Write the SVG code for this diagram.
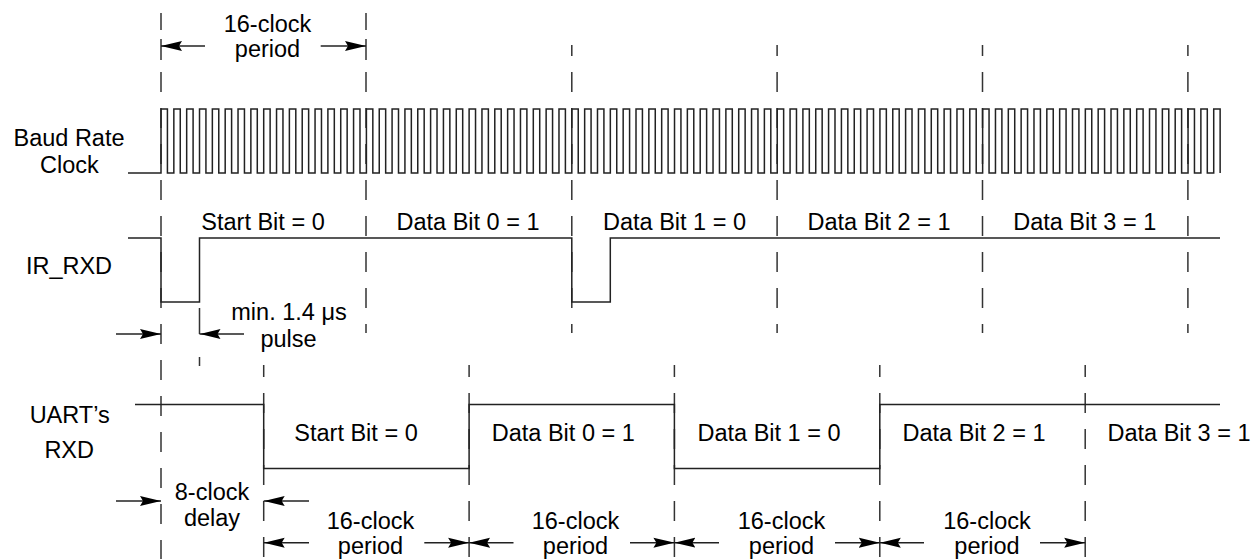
<svg xmlns="http://www.w3.org/2000/svg" width="1260" height="559" viewBox="0 0 1260 559">
<style>
text{font-family:"Liberation Sans",Arial,sans-serif;font-size:23.5px;fill:#000;text-anchor:middle}
.w{fill:none;stroke:#222;stroke-width:1.5}
.d{fill:none;stroke:#333;stroke-width:1.5;stroke-dasharray:20 16}
.s{fill:none;stroke:#333;stroke-width:1.5}
.a{fill:none;stroke:#222;stroke-width:1.4;marker-end:url(#ah)}
</style>
<defs>
<marker id="ah" viewBox="0 0 21 11" refX="21" refY="5.5" markerWidth="21" markerHeight="11" markerUnits="userSpaceOnUse" orient="auto">
<path d="M0,0.5 L21,5.5 L0,10.5 L3,5.5 z" fill="#000"/>
</marker>
</defs>
<rect width="1260" height="559" fill="#fff"/>

<g id="guides">
<path class="s" d="M161,13V30M161,39V60M366,13V30M366,39V60"/>
<path class="d" d="M161,72V559M366,72V333"/>
<path class="d" stroke-dashoffset="9" d="M571.8,45V333M777.1,45V333M982.5,45V333M1187.9,45V333"/>
<path class="s" d="M199.5,308V334M199.5,357V366"/>
<path class="d" stroke-dashoffset="8" d="M263.7,365V559M469.1,365V559M674.4,365V559M879.8,365V559M1085.2,365V559"/>
</g>

<g id="baud-clock">
<text x="69" y="145.5">Baud Rate</text>
<text x="69.5" y="173">Clock</text>
<path class="w" d="M128,173H161
v-64h6.419v64h6.419v-64h6.419v64h6.419v-64h6.419v64h6.419v-64h6.419v64h6.419v-64h6.419v64h6.419v-64h6.419v64h6.419v-64h6.419v64h6.419v-64h6.419v64h6.419v-64h6.419v64h6.419v-64h6.419v64h6.419
v-64h6.419v64h6.419v-64h6.419v64h6.419v-64h6.419v64h6.419v-64h6.419v64h6.419v-64h6.419v64h6.419v-64h6.419v64h6.419v-64h6.419v64h6.419v-64h6.419v64h6.419v-64h6.419v64h6.419v-64h6.419v64h6.419
v-64h6.419v64h6.419v-64h6.419v64h6.419v-64h6.419v64h6.419v-64h6.419v64h6.419v-64h6.419v64h6.419v-64h6.419v64h6.419v-64h6.419v64h6.419v-64h6.419v64h6.419v-64h6.419v64h6.419v-64h6.419v64h6.419
v-64h6.419v64h6.419v-64h6.419v64h6.419v-64h6.419v64h6.419v-64h6.419v64h6.419v-64h6.419v64h6.419v-64h6.419v64h6.419v-64h6.419v64h6.419v-64h6.419v64h6.419v-64h6.419v64h6.419v-64h6.419v64h6.419
v-64h6.419v64h6.419v-64h6.419v64h6.419v-64h6.419v64h6.419v-64h6.419v64h6.419v-64h6.419v64h6.419v-64h6.419v64h6.419v-64h6.419v64h6.419v-64h6.419v64h6.419v-64h6.419v64h6.419v-64h6.419v64h6.419
v-64h6.419v64h6.419v-64h6.419v64h6.419v-64h6.419v64h6.419v-64h6.419v64h6.419v-64h6.419v64h6.419v-64h6.419v64h6.419v-64h6.419v64h6.419v-64h6.419v64h6.419v-64h6.419v64h6.419v-64h6.419v64h6.419
v-64h6.419v64h6.419v-64h6.419v64h6.419v-64h6.419v64h6.419v-64h6.419v64h6.419v-64h6.419v64h6.419v-64h6.419v64h6.419v-64h6.419v64h6.419v-64h6.419v64h6.419v-64h6.419v64h6.419v-64h6.419v64h6.419
v-64h6.419v64h6.419v-64h6.419v64h6.419v-64h6.419v64h6.419v-64h6.419v64h6.419v-64h6.419v64h6.419v-64h6.419v64h6.419v-64h6.419v64h6.419v-64h6.419v64h6.419v-64h6.419v64h6.419v-64h6.419v64h6.419
v-64h6.419v64h6.419v-64h6.419v64h6.419
v-64h6.419v64"/>
</g>

<g id="ir-rxd">
<text x="69" y="274">IR_RXD</text>
<path class="w" d="M128,238H161V302H199.5V238H571.8V302H610.3V238H1220"/>
<text x="263" y="229.5">Start Bit = 0</text>
<text x="468" y="229.5">Data Bit 0 = 1</text>
<text x="674.5" y="229.5">Data Bit 1 = 0</text>
<text x="879" y="229.5">Data Bit 2 = 1</text>
<text x="1084.7" y="229.5">Data Bit 3 = 1</text>
</g>

<g id="uart-rxd">
<text x="69.7" y="423.3">UART’s</text>
<text x="69.2" y="458.3">RXD</text>
<path class="w" d="M135,404.5H263.7V468.5H469.1V404.5H674.4V468.5H879.8V404.5H1220"/>
<text x="356" y="440.5">Start Bit = 0</text>
<text x="563.3" y="440.5">Data Bit 0 = 1</text>
<text x="769" y="440.5">Data Bit 1 = 0</text>
<text x="974" y="440.5">Data Bit 2 = 1</text>
<text x="1179" y="440.5">Data Bit 3 = 1</text>
</g>

<g id="top-period">
<text x="267.5" y="31.5">16-clock</text>
<text x="267.5" y="57">period</text>
</g>
<g id="pulse-label">
<text x="289" y="320">min. 1.4 μs</text>
<text x="288.5" y="346.5">pulse</text>
</g>
<g id="delay-label">
<text x="212" y="499.5">8-clock</text>
<text x="212" y="526">delay</text>
</g>
<g id="bottom-periods">
<text x="370.5" y="529.3">16-clock</text><text x="370.5" y="554">period</text>
<text x="575.5" y="529.3">16-clock</text><text x="575.5" y="554">period</text>
<text x="781.5" y="529.3">16-clock</text><text x="781.5" y="554">period</text>
<text x="987" y="529.3">16-clock</text><text x="987" y="554">period</text>
</g>

<g id="connectors">
<line class="a" x1="205" y1="46" x2="161" y2="46"/>
<line class="a" x1="320.7" y1="46" x2="366" y2="46"/>
<line class="a" x1="116" y1="334" x2="161" y2="334"/>
<line class="a" x1="244" y1="334" x2="199.5" y2="334"/>
<line class="a" x1="116" y1="501" x2="161" y2="501"/>
<line class="a" x1="309" y1="501" x2="263.7" y2="501"/>
<line class="a" x1="309" y1="542.7" x2="263.7" y2="542.7"/>
<line class="a" x1="424.3" y1="542.7" x2="469.1" y2="542.7"/>
<line class="a" x1="513.5" y1="542.7" x2="469.1" y2="542.7"/>
<line class="a" x1="630" y1="542.7" x2="674.4" y2="542.7"/>
<line class="a" x1="719" y1="542.7" x2="674.4" y2="542.7"/>
<line class="a" x1="835" y1="542.7" x2="879.8" y2="542.7"/>
<line class="a" x1="924" y1="542.7" x2="879.8" y2="542.7"/>
<line class="a" x1="1040" y1="542.7" x2="1085.2" y2="542.7"/>
</g>
</svg>
